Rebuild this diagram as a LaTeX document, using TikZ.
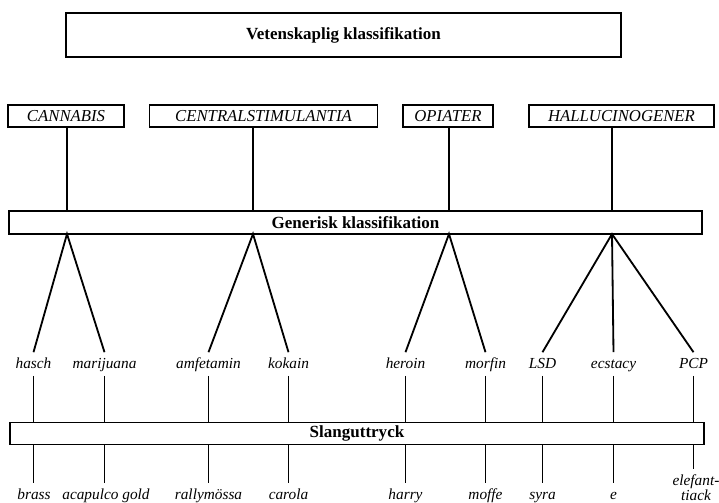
\documentclass[tikz,border=0pt]{standalone}
\usepackage{fontspec}
\setmainfont{Liberation Serif}

\tikzset{
  bigbox/.style={draw, line width=0.9pt, inner sep=0pt, font=\fontsize{12.1}{13}\selectfont\bfseries},
  catbox/.style={draw, line width=0.9pt, inner sep=0pt, minimum height=0.55cm, font=\fontsize{11.9}{13}\selectfont\itshape},
  leaf/.style={inner sep=0pt, minimum height=0.575cm, text height=1.5ex, text depth=0.25ex, font=\fontsize{10.9}{12}\selectfont\itshape},
  slang/.style={inner sep=0pt, minimum height=0.6cm, text height=1.5ex, text depth=0.25ex, font=\fontsize{10.9}{9}\selectfont\itshape},
  twoline/.style={inner sep=0pt, align=center, anchor=north, font=\fontsize{10.9}{7.5}\selectfont\itshape},
  branch/.style={line width=1.3pt},
  stem/.style={line width=0.9pt}
}

\begin{document}
\begin{tikzpicture}[x=0.025cm, y=-0.025cm]
  \useasboundingbox (0,0) rectangle (719,503);

  \node[bigbox, minimum width=13.875cm, minimum height=1.1cm](vet) at (343.5,35) {Vetenskaplig klassifikation};

  % huvudgrupper
  \node[catbox, minimum width=2.9cm](cann) at (66,116) {CANNABIS};
  \node[catbox, minimum width=5.7cm](centr) at (263.5,116) {CENTRALSTIMULANTIA};
  \node[catbox, minimum width=2.25cm](opi) at (448,116) {OPIATER};
  \node[catbox, minimum width=4.625cm](hall) at (621.5,116) {HALLUCINOGENER};

  \node[bigbox, minimum width=17.325cm, minimum height=0.575cm](gen) at (355.5,222.5) {Generisk klassifikation};
  \node[bigbox, minimum width=17.35cm, minimum height=0.55cm](sl) at (357,433.5) {Slanguttryck};

  \coordinate (a1) at (67,234);
  \coordinate (a2) at (253,234);
  \coordinate (a3) at (449,234);
  \coordinate (a4) at (612,234);
  \draw[stem] (a1 |- cann.south) -- (a1 |- gen.north);
  \draw[stem] (a2 |- centr.south) -- (a2 |- gen.north);
  \draw[stem] (a3 |- opi.south) -- (a3 |- gen.north);
  \draw[stem] (a4 |- hall.south) -- (a4 |- gen.north);

  % generiska namn
  \node[leaf](hasch) at (33.5,364) {hasch};
  \node[leaf](mari) at (104.5,364) {marijuana};
  \node[leaf](amf) at (208.5,364) {amfetamin};
  \node[leaf](kok) at (288.5,364) {kokain};
  \node[leaf](her) at (405.5,364) {heroin};
  \node[leaf](morf) at (485.5,364) {morfin};
  \node[leaf](lsd) at (542.5,364) {LSD};
  \node[leaf](ecs) at (613.5,364) {ecstacy};
  \node[leaf](pcp) at (693.5,364) {PCP};

  \draw[branch] (hasch.north) -- (a1) -- (mari.north);
  \draw[branch] (amf.north) -- (a2) -- (kok.north);
  \draw[branch] (her.north) -- (a3) -- (morf.north);
  \draw[branch] (lsd.north) -- (a4) -- (pcp.north);
  \draw[branch] (a4) -- (ecs.north);

  % slanguttryck
  \node[slang](brass) at (34,495) {brass};
  \node[slang](acap) at (106,495) {acapulco gold};
  \node[slang](rally) at (208.5,495) {rallymössa};
  \node[slang](carola) at (288.5,495) {carola};
  \node[slang](harry) at (405.5,495) {harry};
  \node[slang](moffe) at (485.5,495) {moffe};
  \node[slang](syra) at (542.5,495) {syra};
  \node[slang](e) at (613.5,495) {e};
  \node[twoline](elef) at (696,474) {elefant-\\tiack};
  \coordinate (pcpend) at (693.5,469);

  \foreach \g/\s in {hasch/brass, mari/acap, amf/rally, kok/carola, her/harry, morf/moffe, lsd/syra, ecs/e}{
    \draw[stem] (\g.south) -- (\g |- sl.north);
    \draw[stem] (\g |- sl.south) -- (\g |- \s.north);
  }
  \draw[stem] (pcp.south) -- (pcp |- sl.north);
  \draw[stem] (pcp |- sl.south) -- (pcpend);
\end{tikzpicture}
\end{document}
